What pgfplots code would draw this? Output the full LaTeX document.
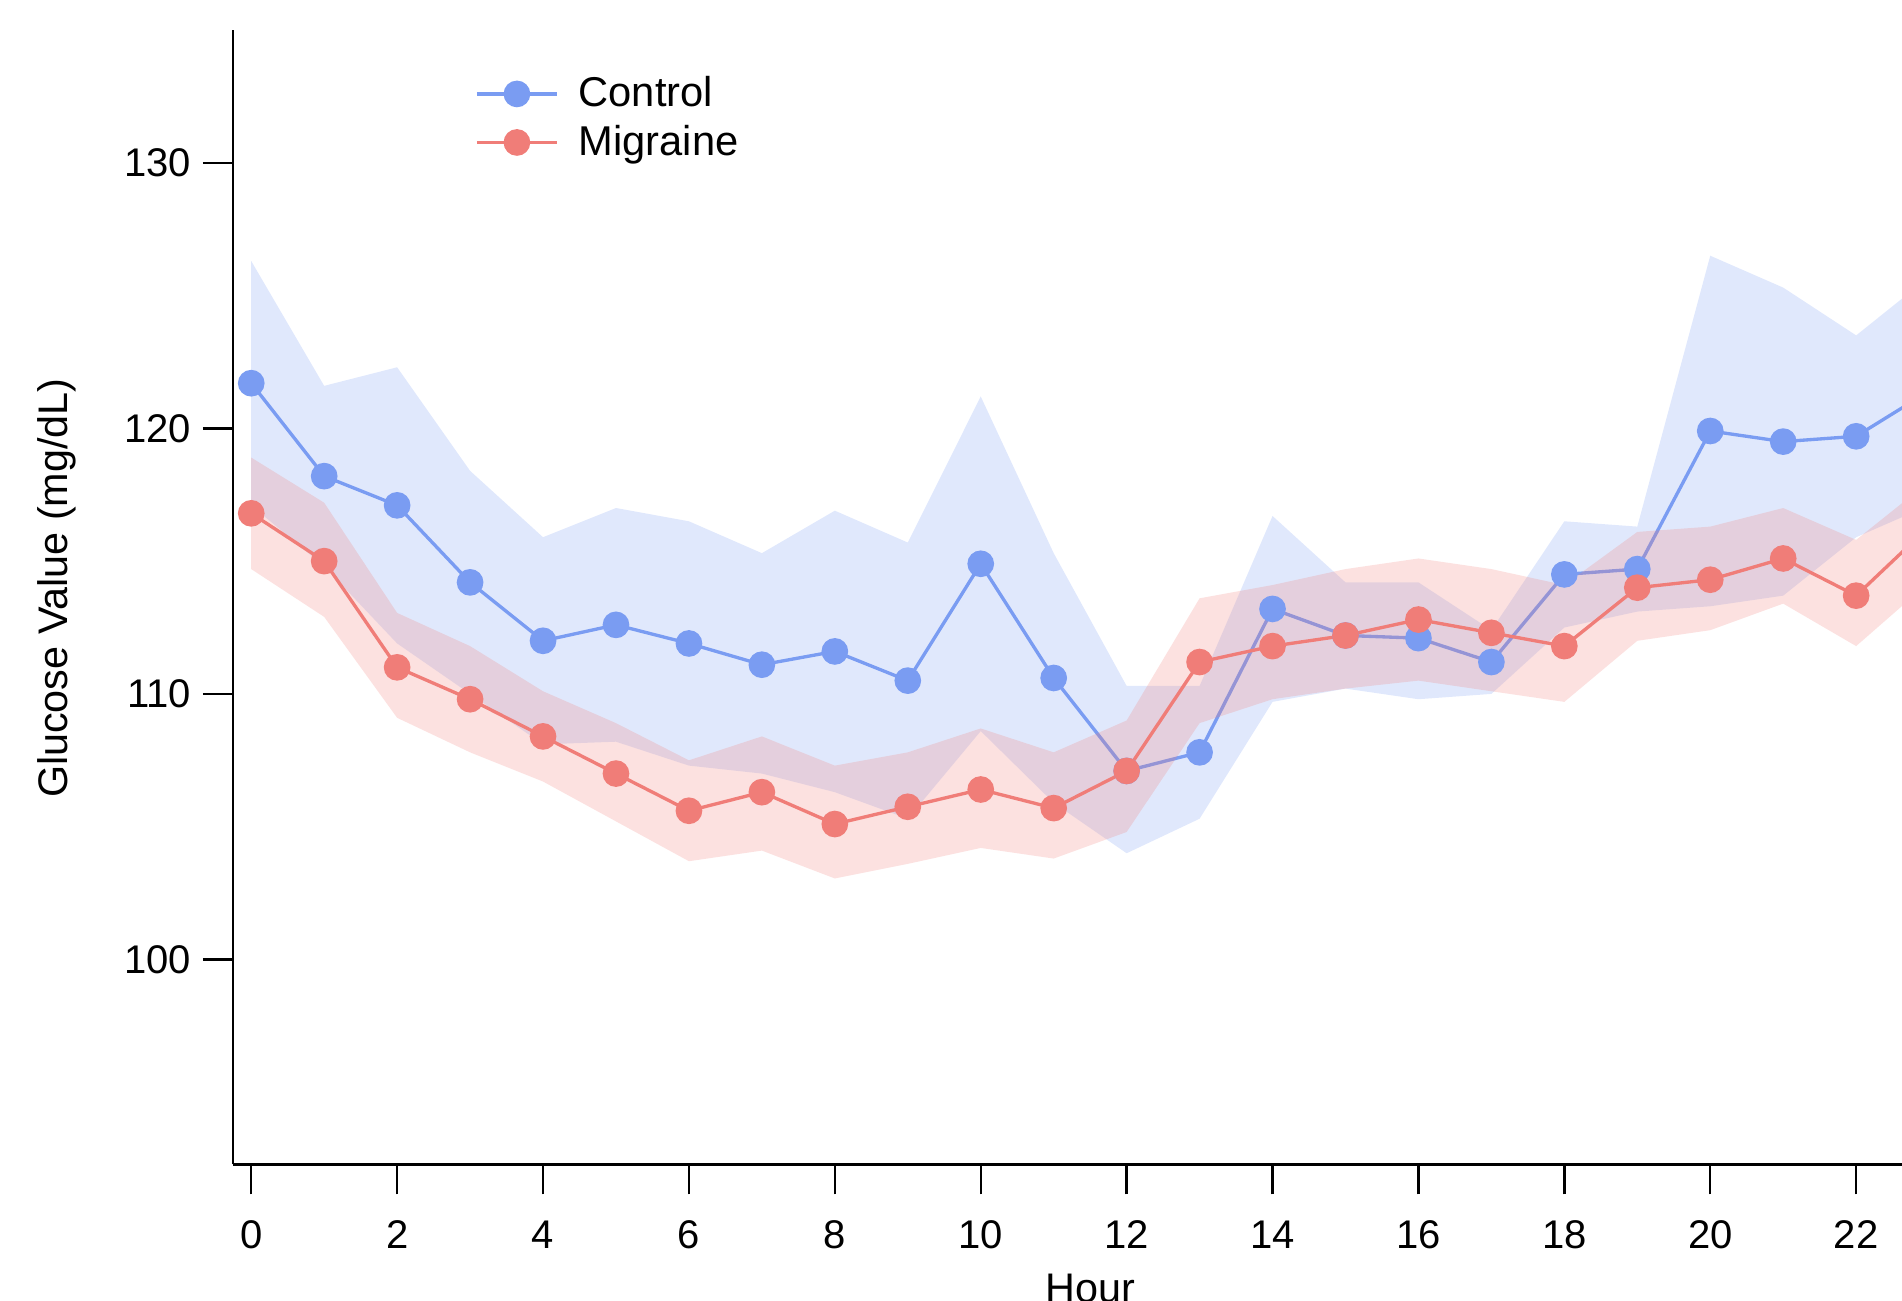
\documentclass[border=0pt]{standalone}
\usepackage{fontspec}
\setmainfont{Liberation Sans}
\usepackage{pgfplots}
\pgfplotsset{compat=1.18}
\definecolor{cblue}{RGB}{122,156,242}
\definecolor{cred}{RGB}{240,125,120}
\begin{document}
\begin{tikzpicture}
\begin{axis}[
 scale only axis, width=514.3pt, height=340.35pt,
 xmin=-0.25, xmax=23.25, ymin=92.28, ymax=135,
 axis lines*=left,
 axis line style={line width=0.7pt, black},
 xtick={0,2,...,22}, ytick={100,110,120,130},
 tick align=outside, major tick length=9pt,
 tick style={line width=0.7pt, black},
 ticklabel style={font=\fontsize{12}{14.4}\selectfont},
 /pgf/number format/assume math mode=true,
 xticklabel style={anchor=base, yshift=-16.35pt},
 yticklabel style={anchor=east},
 xlabel={Hour}, ylabel={Glucose Value (mg/dL)},
 label style={font=\fontsize{12.4}{14.8}\selectfont},
 xlabel style={at={(axis description cs:0.5,-0.1217)}, anchor=base},
 ylabel style={at={(axis description cs:-0.1027,0.508)}, anchor=center},
 legend cell align=left,
 legend style={draw=none, fill=none, at={(axis description cs:0.1351,0.9715)}, anchor=north west, font=\fontsize{12.5}{15}\selectfont, row sep=0pt},
 legend image code/.code={\draw[mark repeat=2,mark phase=2,#1] plot coordinates {(0pt,0pt) (12pt,0pt) (24pt,0pt)}; \path (28pt,0pt);},
]
% Control band
\addplot[draw=none, fill=cblue, fill opacity=0.23, forget plot] coordinates {
(0,126.3) (1,121.6) (2,122.3) (3,118.4) (4,115.9) (5,117.0) (6,116.5) (7,115.3) (8,116.9) (9,115.7) (10,121.2) (11,115.3) (12,110.3) (13,110.3) (14,116.7) (15,114.2) (16,114.2) (17,112.4) (18,116.5) (19,116.3) (20,126.5) (21,125.3) (22,123.5) (23,125.7)
(23,117.1) (22,115.9) (21,113.7) (20,113.3) (19,113.1) (18,112.5) (17,110.0) (16,109.8) (15,110.2) (14,109.7) (13,105.3) (12,104.0) (11,105.9) (10,108.6) (9,105.3) (8,106.3) (7,107.0) (6,107.3) (5,108.2) (4,108.1) (3,110.0) (2,111.9) (1,114.8) (0,117.1)
} -- cycle;
% Control mean
\addplot[cblue, line width=1pt, mark=*, mark size=3.5pt, mark options={solid, fill=cblue, draw=cblue}] coordinates {
(0,121.7) (1,118.2) (2,117.1) (3,114.2) (4,112.0) (5,112.6) (6,111.9) (7,111.1) (8,111.6) (9,110.5) (10,114.9) (11,110.6) (12,107.1) (13,107.8) (14,113.2) (15,112.2) (16,112.1) (17,111.2) (18,114.5) (19,114.7) (20,119.9) (21,119.5) (22,119.7) (23,121.4)
};
\addlegendentry{Control}
% Migraine band
\addplot[draw=none, fill=cred, fill opacity=0.23, forget plot] coordinates {
(0,118.9) (1,117.2) (2,113.05) (3,111.8) (4,110.1) (5,108.9) (6,107.5) (7,108.4) (8,107.3) (9,107.8) (10,108.7) (11,107.8) (12,109.0) (13,113.6) (14,114.1) (15,114.7) (16,115.1) (17,114.7) (18,114.1) (19,116.1) (20,116.3) (21,117.0) (22,115.8) (23,118.0)
(23,114.2) (22,111.8) (21,113.4) (20,112.4) (19,112.0) (18,109.7) (17,110.1) (16,110.5) (15,110.2) (14,109.8) (13,108.9) (12,104.8) (11,103.8) (10,104.2) (9,103.6) (8,103.05) (7,104.1) (6,103.7) (5,105.2) (4,106.7) (3,107.8) (2,109.1) (1,112.9) (0,114.7)
} -- cycle;
% Migraine mean
\addplot[cred, line width=1pt, mark=*, mark size=3.5pt, mark options={solid, fill=cred, draw=cred}] coordinates {
(0,116.8) (1,115.0) (2,111.0) (3,109.8) (4,108.4) (5,107.0) (6,105.6) (7,106.3) (8,105.1) (9,105.75) (10,106.4) (11,105.7) (12,107.1) (13,111.2) (14,111.8) (15,112.2) (16,112.8) (17,112.3) (18,111.8) (19,114.0) (20,114.3) (21,115.1) (22,113.7) (23,116.3)
};
\addlegendentry{Migraine}
\end{axis}
\pgfresetboundingbox
\useasboundingbox (-69.9pt,-40.95pt) rectangle (500.7pt,349.35pt);
\end{tikzpicture}
\end{document}
